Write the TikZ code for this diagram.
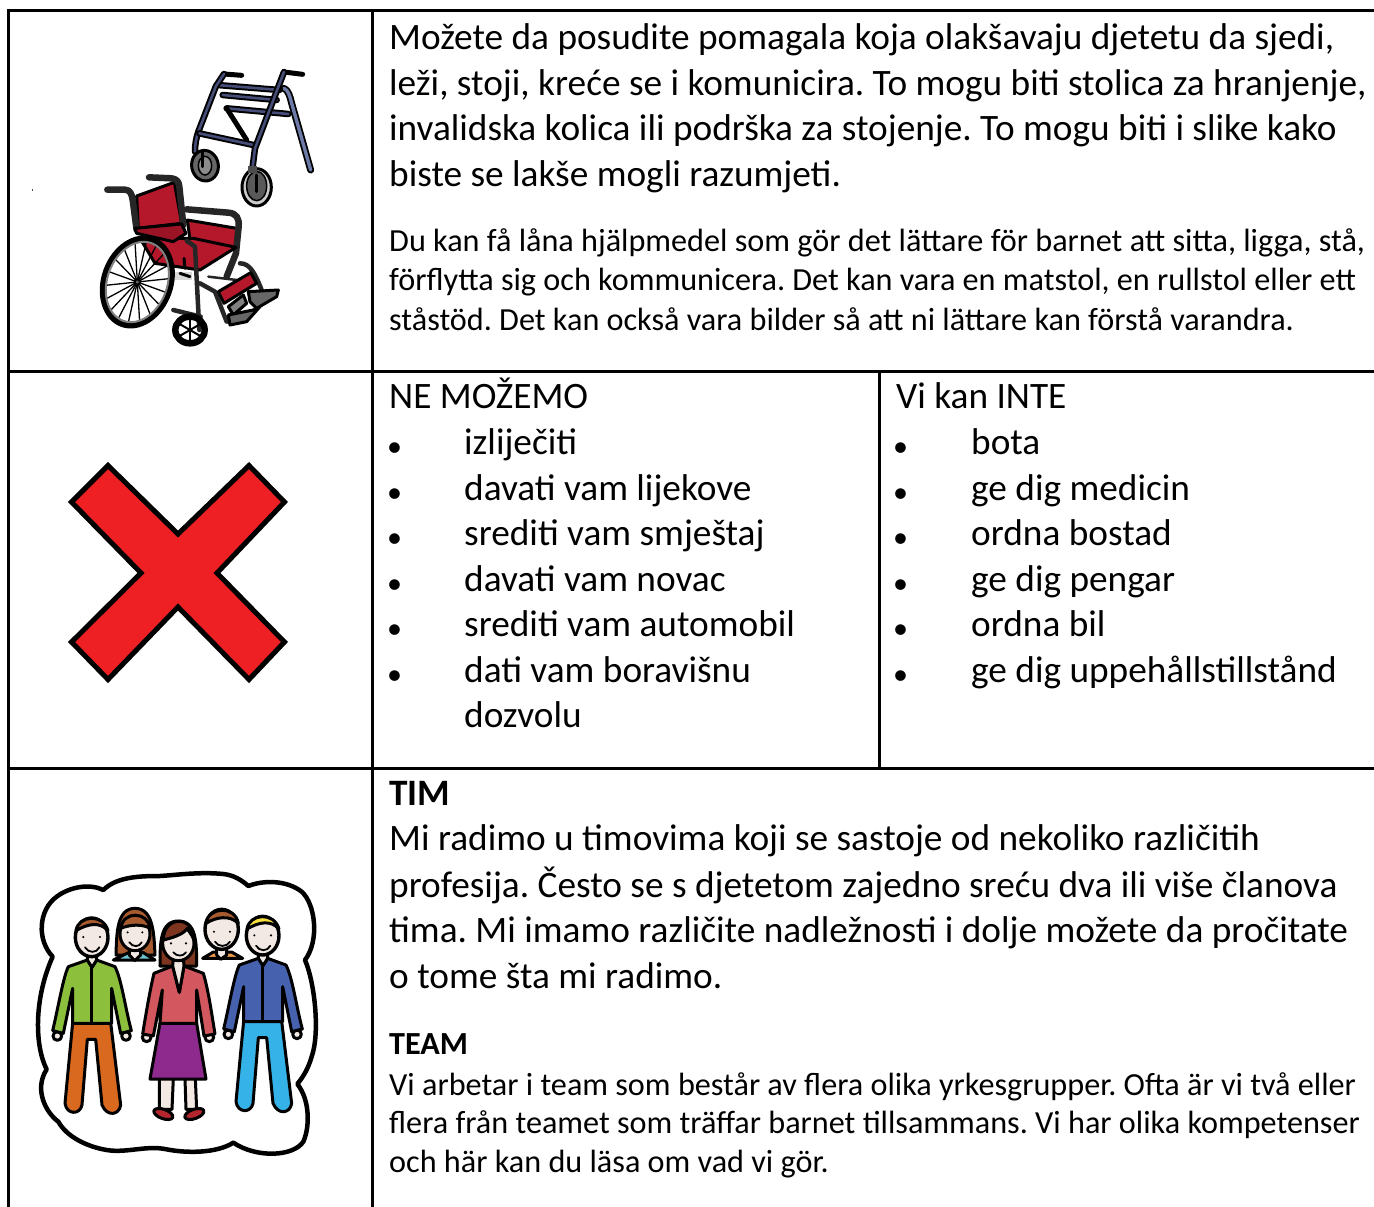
\documentclass[tikz,border=0pt]{standalone}
\usepackage{fontspec}
\setmainfont{Carlito}
\frenchspacing
\definecolor{walkerblue}{HTML}{454D78}
\definecolor{walkerlight}{HTML}{6E7BA8}
\definecolor{chairred}{HTML}{B5182B}
\definecolor{skin}{HTML}{F3E9E4}
\definecolor{hairbrown}{HTML}{A65A2E}
\definecolor{hairdark}{HTML}{7D3520}
\definecolor{shirtgreen}{HTML}{8CC03C}
\definecolor{pantsorange}{HTML}{D9691E}
\definecolor{shirtrose}{HTML}{D2575F}
\definecolor{skirtpurple}{HTML}{8E2A8E}
\definecolor{shirtblue}{HTML}{4661AE}
\definecolor{pantscyan}{HTML}{35B3E8}
\definecolor{hairyellow}{HTML}{F7E03C}
\definecolor{crossred}{HTML}{EE2024}
\definecolor{shoered}{HTML}{B3262E}
\definecolor{collarcyan}{HTML}{6CC5CF}
\definecolor{collarorange}{HTML}{EE9A4D}
\tikzset{
  x=1pt,y=-1pt,
  gridline/.style={draw=black,line width=3pt},
  big/.style={anchor=base west,inner sep=0pt,font=\fontsize{37.3}{40}\selectfont},
  small/.style={anchor=base west,inner sep=0pt,font=\fontsize{32.2}{36}\selectfont},
  smallb/.style={anchor=base west,inner sep=0pt,font=\fontsize{32.2}{36}\selectfont\bfseries},
  bigb/.style={anchor=base west,inner sep=0pt,font=\fontsize{37.3}{40}\selectfont\bfseries},
  dot/.style={anchor=base,inner sep=0pt,font=\fontsize{30}{34}\selectfont},
  tube/.style={draw=black,line width=6.5pt,line cap=round,line join=round,postaction={draw=walkerblue,line width=2.6pt}},
  lighttube/.style={draw=black,line width=7pt,line cap=round,line join=round,postaction={draw=walkerlight,line width=3.4pt}},
  darktube/.style={draw=black!85,line width=4.5pt,line cap=round,line join=round},
  ink/.style={draw=black,line width=3pt,line join=round,line cap=round},
  thinink/.style={draw=black,line width=1.3pt,line cap=round},
}
% man figure, in the coordinates of the left man
\newcommand{\manfig}[6]{%
\begin{scope}[shift={(#1,#2)}]
  \fill[white] (262,270) rectangle (290,330);
  \draw[ink,fill=#4] (218,488) -- (332,488) -- (362,735) .. controls (358,765) and (322,772) .. (306,735) -- (287,538) -- (262,538) -- (246,735) .. controls (240,765) and (200,765) .. (195,730) -- cycle;
  \draw[ink,fill=skin] (172,528) circle (13) (378,528) circle (13);
  \draw[ink,fill=#3] (262,300) -- (205,320) .. controls (190,350) and (175,440) .. (158,512) -- (190,520) -- (218,385) -- (218,490) -- (335,490) -- (335,385) -- (362,520) -- (394,512) .. controls (375,440) and (365,360) .. (345,320) -- (290,300) -- (276,322) -- cycle;
  \draw[ink] (276,322) -- (276,490);
  \draw[ink,fill=skin] (262,272) -- (262,300) -- (276,322) -- (290,300) -- (290,272);
  \draw[ink,line width=3.4pt,fill=skin] (275,232) ellipse (49 and 58);
  \draw[ink,fill=#5] (228,212) .. controls (235,165) and (310,160) .. (324,212) .. controls (300,185) and (265,190) .. cycle;
  \fill[#6] (250,231) circle (3.5) (300,231) circle (3.5);
  \draw[thinink,line width=1.8pt] (255,262) .. controls (265,280) and (290,280) .. (298,262);
\end{scope}}
\begin{document}
\begin{tikzpicture}
\useasboundingbox (0,0) rectangle (1374,1207);
\fill[white] (0,0) rectangle (1374,1207);
% grid
\draw[gridline] (1374,10.5) -- (7,10.5);
\draw[gridline] (8.5,9) -- (8.5,1207);
\draw[gridline] (372.5,9) -- (372.5,1207);
\draw[gridline] (7,371.5) -- (1374,371.5);
\draw[gridline] (7,768.5) -- (1374,768.5);
\draw[gridline] (879.5,371.5) -- (879.5,768.5);
\fill[black!70] (31.5,189) rectangle (32.5,191);

% row 1 text
\node[big] (a1) at (389,49.5) {Možete da posudite pomagala koja olakšavaju djetetu da sjedi,};
\node[big] (a2) at (389,95.5) {leži, stoji, kreće se i komunicira. To mogu biti stolica za hranjenje,};
\node[big] (a3) at (389,140.5) {invalidska kolica ili podrška za stojenje. To mogu biti i slike kako};
\node[big] (a4) at (389,186.5) {biste se lakše mogli razumjeti.};
\node[small] (b1) at (389,251) {Du kan få låna hjälpmedel som gör det lättare för barnet att sitta, ligga, stå,};
\node[small] (b2) at (389,290) {förflytta sig och kommunicera. Det kan vara en matstol, en rullstol eller ett};
\node[small] (b3) at (389,330) {ståstöd. Det kan också vara bilder så att ni lättare kan förstå varandra.};

% row 2 text
\node[big] (c0) at (389,408.5) {NE MOŽEMO};
\node[big] (c1) at (464,454.5) {izliječiti};
\node[big] (c2) at (464,500) {davati vam lijekove};
\node[big] (c3) at (464,545.5) {srediti vam smještaj};
\node[big] (c4) at (464,591) {davati vam novac};
\node[big] (c5) at (464,636.5) {srediti vam automobil};
\node[big] (c6) at (464,682) {dati vam boravišnu};
\node[big] (c7) at (464,727.5) {dozvolu};
\node[big] (d0) at (896,408.5) {Vi kan INTE};
\node[big] (d1) at (971,454.5) {bota};
\node[big] (d2) at (971,500) {ge dig medicin};
\node[big] (d3) at (971,545.5) {ordna bostad};
\node[big] (d4) at (971,591) {ge dig pengar};
\node[big] (d5) at (971,636.5) {ordna bil};
\node[big] (d6) at (971,682) {ge dig uppehållstillstånd};
\node[dot] (e1) at (394.5,456) {•};
\node[dot] (e2) at (394.5,502) {•};
\node[dot] (e3) at (394.5,547) {•};
\node[dot] (e4) at (394.5,593) {•};
\node[dot] (e5) at (394.5,638) {•};
\node[dot] (e6) at (394.5,684) {•};
\node[dot] (f1) at (900.7,456) {•};
\node[dot] (f2) at (900.7,502) {•};
\node[dot] (f3) at (900.7,547) {•};
\node[dot] (f4) at (900.7,593) {•};
\node[dot] (f5) at (900.7,638) {•};
\node[dot] (f6) at (900.7,684) {•};

% row 3 text
\node[bigb] (g0) at (389,805.5) {TIM};
\node[big] (g1) at (389,850.5) {Mi radimo u timovima koji se sastoje od nekoliko različitih};
\node[big] (g2) at (389,897) {profesija. Često se s djetetom zajedno sreću dva ili više članova};
\node[big] (g3) at (389,942) {tima. Mi imamo različite nadležnosti i dolje možete da pročitate};
\node[big] (g4) at (389,988) {o tome šta mi radimo.};
\node[smallb] (h0) at (389,1054.5) {TEAM};
\node[small] (h1) at (389,1095.5) {Vi arbetar i team som består av flera olika yrkesgrupper. Ofta är vi två eller};
\node[small] (h2) at (389,1133.5) {flera från teamet som träffar barnet tillsammans. Vi har olika kompetenser};
\node[small] (h3) at (389,1172.5) {och här kan du läsa om vad vi gör.};

% cross
\draw[draw=black,line width=5pt,line join=miter,fill=crossred]
  (108,465.5) -- (178,534) -- (249,465.5) -- (284.5,502) -- (217,573) -- (284.5,642) -- (249,679.5) -- (178,607) -- (108,679.5) -- (71.5,642) -- (141,573) -- (71.5,502) -- cycle;

% walker and wheelchair
\begin{scope}[shift={(80,50)},scale=1/3]
  % walker
  \draw[lighttube] (612,115) .. controls (625,120) and (630,140) .. (635,160) -- (692,360);
  \draw[darktube,draw=black,line width=5pt] (432,72) -- (485,76);
  \draw[darktube,draw=black,line width=5pt] (612,66) -- (668,73);
  \draw[tube] (440,175) -- (625,192);
  \draw[tube] (428,135) -- (590,150);
  \draw[tube] (412,105) -- (598,120);
  \draw[ink,line width=5pt] (440,175) -- (500,270);
  \draw[tube] (432,72) -- (408,108) -- (355,245) .. controls (348,265) and (345,285) .. (345,305);
  \draw[tube] (358,250) -- (520,285);
  \draw[tube] (612,66) -- (525,295) -- (518,350);
  \draw[ink,fill=black!60,rotate around={10:(375,347)}] (375,347) ellipse (40 and 46);
  \draw[draw=black,line width=1.5pt,fill=black!45] (375,347) ellipse (20 and 28);
  \draw[ink,fill=black!20] (530,412) ellipse (44 and 56);
  \draw[draw=black,line width=1.5pt,fill=black!65] (530,408) ellipse (30 and 44);
  \fill[black!70] (505,348) rectangle (532,368);
  \draw[ink] (530,375) -- (530,425);
  \draw[ink] (368,305) -- (368,350);
  % wheelchair far side
  \draw[ink,fill=chairred] (322,510) -- (470,535) -- (468,592) -- (330,570) -- cycle;
  \draw[darktube,line width=6.5pt] (320,478) -- (445,488) .. controls (470,490) and (478,505) .. (476,530) -- (468,610) -- (440,680);
  % seat
  \draw[ink,fill=chairred] (180,565) -- (340,565) -- (468,592) -- (360,660) -- (225,640) -- cycle;
  % back
  \draw[ink,fill=chairred] (170,438) -- (283,397) -- (305,520) -- (175,535) -- cycle;
  \draw[darktube,line width=6.5pt] (82,419) -- (135,419) .. controls (150,420) and (155,430) .. (158,450) -- (170,540);
  \draw[darktube,line width=6.5pt] (207,382) -- (275,385) .. controls (290,387) and (297,395) .. (298,410) -- (310,525);
  \draw[ink,fill=chairred!85!black] (165,535) -- (305,522) -- (318,550) -- (280,575) -- (170,550) -- cycle;
  % big wheel
  \begin{scope}[rotate around={-20:(172,696)}]
    \foreach \a in {0,20,...,340}{\draw[thinink] (172,696) -- ++(\a:94 and 126);}
    \draw[draw=black,line width=6pt] (172,696) ellipse (99 and 134);
    \draw[draw=black!50,line width=2pt] (172,696) ellipse (90 and 124);
    \draw[draw=black,line width=2pt,fill=black!60] (172,696) circle (8);
  \end{scope}
  % frame and caster
  \fill[black!15] (285,665) rectangle (335,690);
  \draw[ink] (312,625) -- (315,655) (300,670) -- (330,680);
  \draw[darktube] (320,572) -- (345,590) -- (358,840);
  \draw[darktube] (360,700) -- (405,725) -- (440,815);
  \draw[darktube] (280,780) -- (362,800);
  \draw[darktube,line width=2.5pt] (385,680) -- (470,690);
  \begin{scope}
    \foreach \a in {30,90,...,330}{\draw[thinink,line width=2pt] (330,840) -- ++(\a:38);}
    \draw[draw=black,line width=6.5pt] (330,840) ellipse (44 and 40);
    \draw[draw=black,fill=black] (330,840) circle (6);
  \end{scope}
  % footrest
  \draw[darktube] (480,640) .. controls (510,640) and (525,670) .. (545,720);
  \draw[ink,fill=chairred] (415,725) -- (512,668) -- (530,700) -- (432,760) -- cycle;
  \draw[ink,fill=black!50] (445,770) -- (490,735) -- (500,760) -- (460,795) -- cycle;
  \draw[ink,fill=black!60] (445,795) -- (520,780) -- (540,770) -- (500,815) -- (450,825) -- cycle;
  \draw[ink,fill=black!60] (505,725) -- (595,720) -- (590,740) -- (530,775) -- (510,755) -- cycle;
\end{scope}

% team
\begin{scope}[shift={(0,860)},scale=1/3]
  \draw[draw=black,line width=4.5pt,fill=white,line join=round]
    (310,90) .. controls (350,50) and (420,48) .. (480,48) .. controls (530,45) and (600,35) .. (670,42)
    .. controls (700,45) and (725,60) .. (745,78) .. controls (790,60) and (860,60) .. (905,95)
    .. controls (945,130) and (960,240) .. (915,300) .. controls (945,370) and (960,520) .. (935,590)
    .. controls (925,625) and (910,650) .. (892,672) .. controls (930,720) and (930,800) .. (910,845)
    .. controls (880,890) and (770,895) .. (700,848) .. controls (650,880) and (560,880) .. (500,868)
    .. controls (440,855) and (380,880) .. (320,870) .. controls (260,860) and (200,830) .. (175,785)
    .. controls (140,760) and (100,690) .. (140,628) .. controls (105,560) and (100,420) .. (158,290)
    .. controls (110,240) and (115,150) .. (170,110) .. controls (210,80) and (270,70) .. (310,90) -- cycle;
  % back woman
  \draw[ink,fill=hairbrown] (405,145) .. controls (350,145) and (350,220) .. (348,285) -- (465,285) .. controls (462,220) and (460,145) .. (405,145) -- cycle;
  \draw[ink,fill=collarcyan] (340,300) -- (385,278) -- (430,278) -- (465,300) -- cycle;
  \draw[ink,fill=skin] (388,262) -- (388,285) -- (404,302) -- (422,285) -- (422,262);
  \draw[ink,fill=skin] (405,222) ellipse (45 and 50);
  \draw[ink,fill=hairbrown] (362,205) .. controls (385,195) and (425,190) .. (450,205) .. controls (445,155) and (370,150) .. cycle;
  \fill[black] (383,217) circle (3.5) (427,217) circle (3.5);
  \draw[thinink,line width=1.8pt] (388,247) .. controls (398,262) and (418,262) .. (425,247);
  % back man
  \draw[ink,fill=collarorange] (608,295) -- (640,276) -- (695,276) -- (728,295) -- cycle;
  \draw[ink,fill=skin] (650,262) -- (650,285) -- (662,298) -- (680,285) -- (680,262);
  \draw[ink,line width=3.4pt,fill=skin] (665,208) ellipse (50 and 60);
  \draw[ink,fill=hairbrown] (618,190) .. controls (625,140) and (705,135) .. (715,190) .. controls (690,165) and (650,170) .. cycle;
  \fill[black] (642,215) circle (3.5) (690,215) circle (3.5);
  \draw[thinink,line width=1.8pt] (645,245) .. controls (655,262) and (680,262) .. (690,245);
  % men
  \manfig{0}{0}{shirtgreen}{pantsorange}{hairbrown}{black}
  \manfig{513}{-5}{shirtblue}{pantscyan}{hairyellow}{black}
  % woman
  \draw[ink,fill=hairdark] (535,183) .. controls (480,183) and (480,250) .. (480,318) -- (590,318) .. controls (590,250) and (590,183) .. (535,183) -- cycle;
  \draw[ink,fill=skin] (478,655) -- (478,748) -- (516,748) -- (520,655) -- cycle;
  \draw[ink,fill=skin] (555,655) -- (558,748) -- (590,748) -- (586,655) -- cycle;
  \draw[ink,fill=shoered,rotate around={-20:(490,762)}] (490,762) ellipse (30 and 14);
  \draw[ink,fill=shoered,rotate around={20:(583,762)}] (583,762) ellipse (30 and 14);
  \draw[ink,fill=skin] (440,532) circle (13) (628,532) circle (13);
  \draw[ink,fill=skirtpurple] (480,490) -- (590,490) -- (618,657) -- (450,657) -- cycle;
  \draw[ink,fill=shirtrose] (518,318) -- (462,340) .. controls (450,390) and (438,460) .. (428,522) -- (460,528) -- (487,390) -- (480,490) -- (590,490) -- (590,390) -- (612,528) -- (645,522) .. controls (635,460) and (625,390) .. (610,340) -- (552,318) -- (538,397) -- cycle;
  \draw[ink,fill=skin] (520,295) -- (518,318) -- (538,397) -- (552,318) -- (550,295);
  \draw[ink,fill=skin] (535,250) ellipse (47 and 52);
  \draw[ink,fill=hairdark] (490,240) .. controls (510,235) and (550,225) .. (562,205) .. controls (570,220) and (580,230) .. (583,242) .. controls (585,165) and (490,165) .. cycle;
  \fill[black] (513,250) circle (3.5) (558,250) circle (3.5);
  \draw[thinink,line width=1.8pt] (520,277) .. controls (530,290) and (550,290) .. (558,277);
\end{scope}
\end{tikzpicture}
\end{document}
